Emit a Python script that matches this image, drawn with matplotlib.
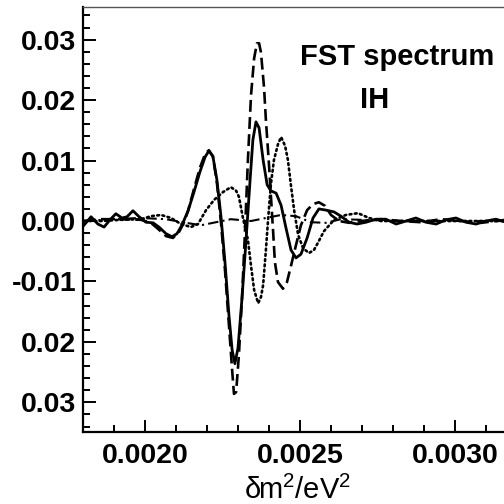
import matplotlib
matplotlib.use('Agg')
import matplotlib.pyplot as plt
from matplotlib.ticker import FixedLocator, FixedFormatter, MultipleLocator

# Curve data (x in eV^2)
solid_x = [0.001803, 0.001826, 0.001848, 0.001868, 0.001887, 0.001906, 0.001926, 0.001942, 0.001961, 0.001981,
           0.002003, 0.002026, 0.002045, 0.002068, 0.002087, 0.002103, 0.002119, 0.002139, 0.002158, 0.002177,
           0.002194, 0.002206, 0.002219, 0.002232, 0.002245, 0.002258, 0.002271, 0.002281, 0.002290, 0.002300,
           0.002313, 0.002326, 0.002339, 0.002348, 0.002358, 0.002368, 0.002381, 0.002394, 0.002406, 0.002423,
           0.002439, 0.002455, 0.002471, 0.002487, 0.002503, 0.002523, 0.002542, 0.002561, 0.002584, 0.002610,
           0.002632, 0.002658, 0.002684, 0.002713, 0.002745, 0.002777, 0.002810, 0.002842, 0.002874, 0.002906,
           0.002939, 0.002971, 0.003003, 0.003035, 0.003068, 0.003100, 0.003132, 0.003165]
solid_y = [-0.0007, 0.0007, -0.0005, -0.0010, 0.0002, 0.0012, 0.0005, 0.0007, 0.0017, 0.0007,
           -0.0002, -0.0003, -0.0010, -0.0021, -0.0026, -0.0021, -0.0007, 0.0017, 0.0048, 0.0081,
           0.0106, 0.0116, 0.0107, 0.0068, 0.0008, -0.0068, -0.0157, -0.0213, -0.0236, -0.0210,
           -0.0127, -0.0031, 0.0068, 0.0134, 0.0164, 0.0154, 0.0101, 0.0060, 0.0050, 0.0046,
           0.0026, -0.0012, -0.0048, -0.0061, -0.0055, -0.0028, 0.0005, 0.0020, 0.0018, 0.0015,
           0.0008, -0.0002, -0.0005, -0.0002, 0.0003, 0.0003, -0.0005, 0.0, 0.0005, -0.0002,
           -0.0005, 0.0002, 0.0005, -0.0002, -0.0005, 0.0, 0.0003, -0.0002]

dashed_x = [0.001803, 0.001858, 0.001923, 0.001987, 0.002019, 0.002042, 0.002068, 0.002090, 0.002110, 0.002126,
            0.002139, 0.002158, 0.002177, 0.002194, 0.002206, 0.002219, 0.002232, 0.002245, 0.002258, 0.002271,
            0.002281, 0.002287, 0.002294, 0.002303, 0.002313, 0.002323, 0.002332, 0.002342, 0.002352, 0.002361,
            0.002368, 0.002374, 0.002384, 0.002390, 0.002400, 0.002406, 0.002413, 0.002419, 0.002429, 0.002445,
            0.002458, 0.002471, 0.002487, 0.002503, 0.002523, 0.002542, 0.002561, 0.002581, 0.002600, 0.002626,
            0.002658, 0.002697, 0.002761, 0.002826, 0.002890, 0.002955, 0.003019, 0.003084, 0.003165]
dashed_y = [0.0, 0.0003, 0.0003, 0.0002, -0.0003, -0.0013, -0.0025, -0.0028, -0.0018, -0.0002,
            0.0017, 0.0053, 0.0088, 0.0111, 0.0117, 0.0107, 0.0063, -0.0002, -0.0081, -0.0174,
            -0.0246, -0.0286, -0.0283, -0.0221, -0.0127, -0.0012, 0.0101, 0.0208, 0.0269, 0.0294,
            0.0294, 0.0279, 0.0221, 0.0167, 0.0093, 0.0043, -0.0015, -0.0068, -0.0101, -0.0112,
            -0.0101, -0.0074, -0.0040, -0.0007, 0.0018, 0.0028, 0.0031, 0.0025, 0.0010, 0.0,
            -0.0003, 0.0, 0.0003, 0.0, -0.0002, 0.0003, 0.0, -0.0003, 0.0002]

dotted_x = [0.001803, 0.001858, 0.001923, 0.001987, 0.002019, 0.002052, 0.002084, 0.002116, 0.002148, 0.002171,
            0.002197, 0.002223, 0.002252, 0.002277, 0.002294, 0.002303, 0.002316, 0.002332, 0.002342, 0.002352,
            0.002365, 0.002374, 0.002381, 0.002390, 0.002397, 0.002406, 0.002416, 0.002429, 0.002439, 0.002452,
            0.002461, 0.002471, 0.002481, 0.002494, 0.002510, 0.002529, 0.002545, 0.002561, 0.002577, 0.002610,
            0.002648, 0.002687, 0.002723, 0.002761, 0.002890, 0.003165]
dotted_y = [0.0, 0.0, 0.0002, 0.0003, 0.0008, 0.0010, 0.0005, -0.0005, -0.0010, -0.0005,
            0.0018, 0.0035, 0.0048, 0.0056, 0.0050, 0.0040, 0.0005, -0.0031, -0.0074, -0.0114,
            -0.0136, -0.0126, -0.0106, -0.0048, 0.0002, 0.0060, 0.0101, 0.0127, 0.0139, 0.0124,
            0.0101, 0.0058, 0.0018, -0.0023, -0.0045, -0.0053, -0.0048, -0.0033, -0.0017, 0.0002,
            0.0010, 0.0013, 0.0005, 0.0, 0.0, 0.0]

dashdot_x = [0.001803, 0.001890, 0.001987, 0.002068, 0.002132, 0.002181, 0.002229, 0.002277, 0.002342,
             0.002390, 0.002439, 0.002487, 0.002535, 0.002584, 0.002632, 0.002697, 0.002826, 0.003165]
dashdot_y = [0.0, 0.0003, 0.0005, 0.0003, -0.0003, -0.0007, -0.0002, 0.0003, 0.0,
             0.0005, 0.0010, 0.0008, -0.0002, -0.0003, 0.0003, 0.0002, 0.0, 0.0]

# Tick labels as printed in the original (no minus on the lower two)
ytick_values = [-0.03, -0.02, -0.01, 0.0, 0.01, 0.02, 0.03]
ytick_labels = ['0.03', '0.02', '-0.01', '0.00', '0.01', '0.02', '0.03']
xtick_values = [0.0020, 0.0025, 0.0030]
xtick_labels = ['0.0020', '0.0025', '0.0030']

plt.rcParams['font.family'] = ['Liberation Sans', 'DejaVu Sans']
plt.rcParams['mathtext.fontset'] = 'custom'
plt.rcParams['mathtext.rm'] = 'Liberation Sans'
plt.rcParams['mathtext.it'] = 'Liberation Sans'

fig = plt.figure(figsize=(5.04, 5.04), dpi=100)
ax = fig.add_axes([83 / 504, 72 / 504, 434 / 504, 425 / 504])

ax.plot(dashdot_x, dashdot_y, color='black', lw=1.5, dashes=(5, 2, 1, 2))
ax.plot(dotted_x, dotted_y, color='black', lw=1.9, dashes=(0.7, 1.3), dash_capstyle='round')
ax.plot(dashed_x, dashed_y, color='black', lw=1.9, dashes=(4.5, 2))
ax.plot(solid_x, solid_y, color='black', lw=2.0)

ax.set_xlim(0.0018, 0.0032)
ax.set_ylim(-0.0349, 0.0354)

ax.xaxis.set_major_locator(FixedLocator(xtick_values))
ax.xaxis.set_major_formatter(FixedFormatter(xtick_labels))
ax.xaxis.set_minor_locator(MultipleLocator(0.0001))
ax.yaxis.set_major_locator(FixedLocator(ytick_values))
ax.yaxis.set_major_formatter(FixedFormatter(ytick_labels))
ax.yaxis.set_minor_locator(MultipleLocator(0.002))

ax.tick_params(which='both', direction='in', top=False, right=False, width=1.4, color='black')
ax.tick_params(which='major', length=9)
ax.tick_params(which='minor', length=5)
ax.tick_params(axis='x', which='major', pad=8)
ax.tick_params(axis='y', which='major', pad=5)
for lab in ax.get_xticklabels() + ax.get_yticklabels():
    lab.set_fontsize(20.5)
    lab.set_fontweight('bold')

ax.spines['left'].set_linewidth(1.6)
ax.spines['bottom'].set_linewidth(1.6)
ax.spines['top'].set_linewidth(1.0)
ax.spines['top'].set_color('#555555')
ax.spines['right'].set_visible(False)

fig.text(397 / 504, 1 - 65 / 504, 'FST spectrum', ha='center', va='baseline',
         fontsize=21, fontweight='bold')
fig.text(375 / 504, 1 - 108 / 504, 'IH', ha='center', va='baseline',
         fontsize=21, fontweight='bold')
fig.text(298 / 504, 1 - 499 / 504, r'δm$^2$/eV$^2$', ha='center', va='baseline', fontsize=21)

fig.savefig('out.png', dpi=100)
